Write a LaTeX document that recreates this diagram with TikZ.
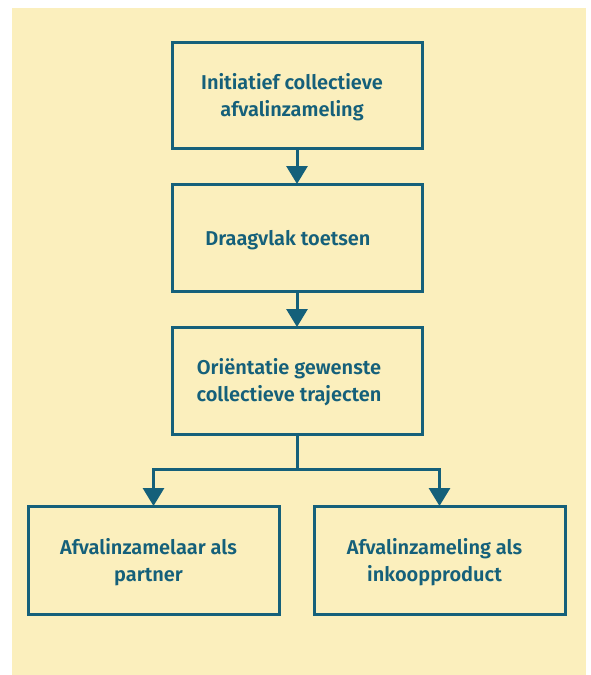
\documentclass[tikz,border=0pt]{standalone}
\usepackage{fontspec}
\setmainfont{Fira Sans}[BoldFont={Fira Sans SemiBold}]
\usetikzlibrary{arrows.meta}
\definecolor{teal}{HTML}{15607A}
\definecolor{bgyellow}{HTML}{FBEFBD}
\tikzset{
  box/.style={draw=teal, line width=3pt, fill=bgyellow, inner sep=0pt, outer sep=0pt},
  lbl/.style={text=teal, font=\fontsize{20}{27}\selectfont\bfseries, align=center, inner sep=0pt},
  link/.style={draw=teal, line width=3pt, -{Triangle[width=21pt,length=18pt]}},
  plain/.style={draw=teal, line width=3pt}
}
\begin{document}
\begin{tikzpicture}[x=1pt,y=-1pt]
\useasboundingbox (0,0) rectangle (591,675);
\fill[white] (0,0) rectangle (591,675);
\fill[bgyellow] (12,8) rectangle (586,675);
\node[box, minimum width=250pt, minimum height=106pt] (b1) at (297,95) {};
\node[box, minimum width=250pt, minimum height=107pt] (b2) at (297,237.5) {};
\node[box, minimum width=250pt, minimum height=107pt] (b3) at (297,380.5) {};
\node[box, minimum width=251pt, minimum height=108pt] (b4) at (153.5,560) {};
\node[box, minimum width=251pt, minimum height=108pt] (b5) at (439.5,560) {};
\node[lbl] (t1) at ([xshift=-5pt,yshift=-2pt]b1.center) {Initiatief collectieve\\afvalinzameling};
\node[lbl] (t2) at ([xshift=-9pt,yshift=-3pt]b2.center) {Draagvlak toetsen};
\node[lbl] (t3) at ([xshift=-8pt,yshift=-2pt]b3.center) {Oriëntatie gewenste\\collectieve trajecten};
\node[lbl] (t4) at ([xshift=-5pt,yshift=-2pt]b4.center) {Afvalinzamelaar als\\partner};
\node[lbl] (t5) at ([xshift=-5pt,yshift=-2pt]b5.center) {Afvalinzameling als\\inkoopproduct};
\coordinate (split) at (297,469);
\draw[link] (b1.south) -- (b2.north);
\draw[link] (b2.south) -- (b3.north);
\draw[plain] (b3.south) -- (split);
\draw[link] (split) -| (b4.north);
\draw[link] (split) -| (b5.north);
\end{tikzpicture}
\end{document}
